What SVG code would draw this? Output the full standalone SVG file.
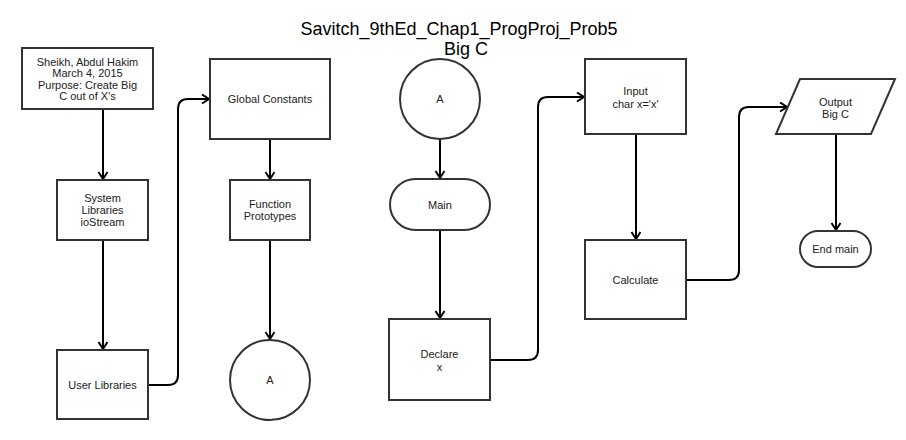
<svg xmlns="http://www.w3.org/2000/svg" width="906" height="440" viewBox="0 0 906 440">
  <style>
    .shape { fill: #ffffff; stroke: #333333; stroke-width: 2; }
    .label { font-family: "Liberation Sans", Arial, sans-serif; font-size: 11px; fill: #222222; text-anchor: middle; }
    .title { font-family: "Liberation Sans", Arial, sans-serif; font-size: 18px; fill: #000000; text-anchor: middle; }
    .edge { fill: none; stroke: #000000; stroke-width: 2; marker-end: url(#open); }
  </style>
  <defs>
    <marker id="open" markerUnits="userSpaceOnUse" markerWidth="12" markerHeight="12" refX="8" refY="5" orient="auto">
      <path d="M1,0.5 L8,5 L1,9.5" fill="none" stroke="#000000" stroke-width="2"/>
    </marker>
  </defs>
  <rect width="906" height="440" fill="#ffffff"/>

  <g id="title">
    <text class="title" x="459" y="35">Savitch_9thEd_Chap1_ProgProj_Prob5</text>
    <text class="title" x="466" y="55">Big C</text>
  </g>

  <g id="connectors">
    <path class="edge" d="M103,109 V179"/>
    <path class="edge" d="M103,240 V349"/>
    <path class="edge" d="M148,385 H168 Q178,385 178,375 V109 Q178,99 188,99 H209"/>
    <path class="edge" d="M270,139 V179"/>
    <path class="edge" d="M270,240 V339"/>
    <path class="edge" d="M440,139 V178"/>
    <path class="edge" d="M440,230 V318"/>
    <path class="edge" d="M490,360 H528 Q538,360 538,350 V107 Q538,97 548,97 H584"/>
    <path class="edge" d="M636,134 V239"/>
    <path class="edge" d="M686,280 H729 Q739,280 739,270 V117 Q739,107 749,107 H787"/>
    <path class="edge" d="M836,134 V230"/>
  </g>

  <g id="header">
    <rect class="shape" x="22" y="48" width="131" height="61"/>
    <text class="label" x="87.5" y="65.5">Sheikh, Abdul Hakim</text>
    <text class="label" x="87.5" y="77">March 4, 2015</text>
    <text class="label" x="87.5" y="88.5">Purpose: Create Big</text>
    <text class="label" x="87.5" y="100">C out of X's</text>
  </g>

  <g id="system-libraries">
    <rect class="shape" x="57" y="180" width="91" height="60"/>
    <text class="label" x="102.5" y="202">System</text>
    <text class="label" x="102.5" y="214">Libraries</text>
    <text class="label" x="102.5" y="226">ioStream</text>
  </g>

  <g id="user-libraries">
    <rect class="shape" x="57" y="350" width="91" height="69"/>
    <text class="label" x="102.5" y="389">User Libraries</text>
  </g>

  <g id="global-constants">
    <rect class="shape" x="210" y="59" width="120" height="80"/>
    <text class="label" x="270" y="103">Global Constants</text>
  </g>

  <g id="function-prototypes">
    <rect class="shape" x="230" y="180" width="80" height="60"/>
    <text class="label" x="270" y="208">Function</text>
    <text class="label" x="270" y="220">Prototypes</text>
  </g>

  <g id="connector-a-out">
    <circle class="shape" cx="270" cy="380" r="40"/>
    <text class="label" x="270" y="384">A</text>
  </g>

  <g id="connector-a-in">
    <circle class="shape" cx="440" cy="99" r="40"/>
    <text class="label" x="440" y="103">A</text>
  </g>

  <g id="main">
    <rect class="shape" x="390" y="179" width="100" height="51" rx="25.5" ry="25.5"/>
    <text class="label" x="440" y="209">Main</text>
  </g>

  <g id="declare">
    <rect class="shape" x="389" y="319" width="101" height="81"/>
    <text class="label" x="439.5" y="358">Declare</text>
    <text class="label" x="439.5" y="371">x</text>
  </g>

  <g id="input">
    <rect class="shape" x="585" y="59" width="101" height="75"/>
    <text class="label" x="635.5" y="95">Input</text>
    <text class="label" x="635.5" y="108">char x='x'</text>
  </g>

  <g id="calculate">
    <rect class="shape" x="585" y="240" width="101" height="79"/>
    <text class="label" x="635.5" y="284">Calculate</text>
  </g>

  <g id="output">
    <polygon class="shape" points="800,79 895,79 871,134 776,134"/>
    <text class="label" x="835.5" y="106">Output</text>
    <text class="label" x="835.5" y="118">Big C</text>
  </g>

  <g id="end-main">
    <rect class="shape" x="800" y="231" width="71" height="36" rx="18" ry="18"/>
    <text class="label" x="835.5" y="253">End main</text>
  </g>
</svg>
